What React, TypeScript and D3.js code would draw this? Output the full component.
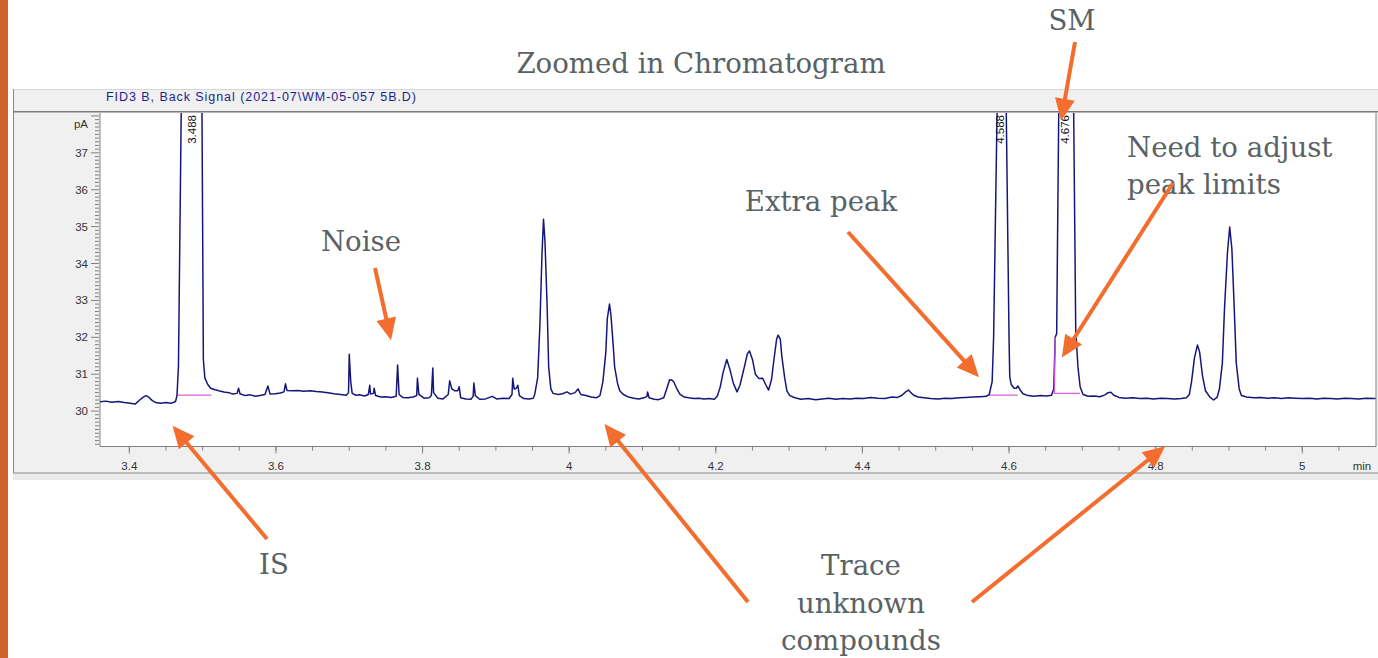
import React from "react";
import * as d3 from "d3";

// Chromatogram trace: [retention time (min), signal (pA)]
const signal: [number, number][] = [
  [3.360, 30.25], [3.368, 30.27], [3.376, 30.24], [3.385, 30.26], [3.393, 30.23], [3.401, 30.21],
  [3.408, 30.19], [3.413, 30.28], [3.419, 30.38], [3.423, 30.42], [3.427, 30.37], [3.431, 30.29],
  [3.436, 30.23], [3.443, 30.21], [3.450, 30.23], [3.457, 30.21], [3.463, 30.26], [3.465, 30.42],
  [3.467, 31.2], [3.468, 33.0], [3.471, 38.5], [3.485, 60], [3.499, 38.5], [3.501, 31.4],
  [3.503, 30.9], [3.507, 30.72], [3.511, 30.62], [3.517, 30.58], [3.522, 30.55], [3.529, 30.52],
  [3.536, 30.5], [3.541, 30.46], [3.547, 30.48], [3.549, 30.62], [3.551, 30.47], [3.558, 30.42],
  [3.565, 30.44], [3.572, 30.40], [3.578, 30.42], [3.585, 30.45], [3.589, 30.68], [3.592, 30.46],
  [3.599, 30.47], [3.606, 30.49], [3.611, 30.52], [3.613, 30.74], [3.615, 30.56], [3.622, 30.55],
  [3.630, 30.56], [3.638, 30.54], [3.647, 30.55], [3.655, 30.53], [3.663, 30.52], [3.671, 30.50],
  [3.679, 30.47], [3.688, 30.45], [3.696, 30.43], [3.699, 30.5], [3.700, 31.54], [3.702, 30.8],
  [3.704, 30.48], [3.709, 30.43], [3.714, 30.44], [3.721, 30.41], [3.726, 30.45], [3.728, 30.70],
  [3.729, 30.46], [3.733, 30.48], [3.734, 30.62], [3.736, 30.42], [3.743, 30.38], [3.750, 30.39],
  [3.757, 30.37], [3.764, 30.4], [3.766, 31.25], [3.768, 30.45], [3.773, 30.37], [3.780, 30.36],
  [3.787, 30.38], [3.792, 30.42], [3.793, 30.89], [3.795, 30.45], [3.802, 30.35], [3.809, 30.36],
  [3.812, 30.42], [3.814, 31.17], [3.815, 30.5], [3.821, 30.35], [3.828, 30.33], [3.835, 30.45],
  [3.837, 30.82], [3.840, 30.6], [3.844, 30.55], [3.848, 30.55], [3.850, 30.66], [3.852, 30.36],
  [3.859, 30.33], [3.866, 30.32], [3.869, 30.4], [3.870, 30.76], [3.872, 30.42], [3.878, 30.32],
  [3.886, 30.33], [3.895, 30.40], [3.901, 30.33], [3.910, 30.35], [3.918, 30.34], [3.922, 30.45],
  [3.923, 30.89], [3.925, 30.6], [3.928, 30.62], [3.930, 30.70], [3.932, 30.42], [3.938, 30.34],
  [3.945, 30.33], [3.951, 30.35], [3.953, 30.45], [3.957, 30.9], [3.960, 32.3], [3.963, 34.3],
  [3.965, 35.2], [3.967, 34.6], [3.970, 32.8], [3.972, 31.2], [3.975, 30.6], [3.978, 30.48],
  [3.985, 30.45], [3.991, 30.47], [3.997, 30.52], [4.002, 30.46], [4.008, 30.5], [4.012, 30.6],
  [4.016, 30.45], [4.023, 30.42], [4.030, 30.38], [4.037, 30.36], [4.042, 30.42], [4.046, 30.8],
  [4.050, 31.6], [4.052, 32.5], [4.055, 32.9], [4.057, 32.6], [4.060, 31.8], [4.062, 31.2],
  [4.066, 30.75], [4.069, 30.55], [4.074, 30.45], [4.081, 30.38], [4.088, 30.35], [4.095, 30.33],
  [4.102, 30.36], [4.106, 30.40], [4.107, 30.52], [4.109, 30.36], [4.116, 30.32], [4.122, 30.31],
  [4.129, 30.36], [4.133, 30.6], [4.137, 30.85], [4.140, 30.84], [4.143, 30.78], [4.147, 30.6],
  [4.151, 30.46], [4.157, 30.38], [4.163, 30.36], [4.170, 30.34], [4.177, 30.35], [4.184, 30.33],
  [4.191, 30.34], [4.198, 30.32], [4.202, 30.4], [4.206, 30.65], [4.210, 31.05], [4.215, 31.40],
  [4.219, 31.15], [4.224, 30.75], [4.229, 30.52], [4.233, 30.7], [4.239, 31.2], [4.243, 31.55],
  [4.246, 31.63], [4.250, 31.4], [4.254, 31.0], [4.259, 30.88], [4.264, 30.89], [4.268, 30.72],
  [4.272, 30.57], [4.276, 30.85], [4.280, 31.5], [4.283, 31.95], [4.285, 32.06], [4.288, 31.95],
  [4.290, 31.5], [4.294, 30.9], [4.297, 30.55], [4.301, 30.42], [4.308, 30.36], [4.316, 30.32],
  [4.326, 30.34], [4.336, 30.31], [4.345, 30.33], [4.354, 30.35], [4.364, 30.32], [4.373, 30.34],
  [4.383, 30.33], [4.392, 30.35], [4.402, 30.34], [4.411, 30.37], [4.421, 30.35], [4.431, 30.34],
  [4.440, 30.38], [4.448, 30.37], [4.454, 30.43], [4.459, 30.52], [4.463, 30.57], [4.466, 30.5],
  [4.470, 30.43], [4.476, 30.38], [4.484, 30.36], [4.493, 30.34], [4.503, 30.33], [4.513, 30.35],
  [4.522, 30.34], [4.532, 30.36], [4.541, 30.37], [4.551, 30.38], [4.561, 30.39], [4.569, 30.40],
  [4.573, 30.45], [4.577, 30.8], [4.579, 32.0], [4.584, 38.5], [4.590, 60], [4.596, 38.5],
  [4.600, 32.0], [4.601, 30.93], [4.603, 30.72], [4.607, 30.62], [4.610, 30.62], [4.612, 30.68],
  [4.615, 30.58], [4.619, 30.47], [4.626, 30.42], [4.634, 30.40], [4.643, 30.42], [4.651, 30.41],
  [4.658, 30.43], [4.661, 30.6], [4.662, 31.3], [4.663, 32.0], [4.665, 32.1], [4.668, 38.5],
  [4.678, 60], [4.688, 38.5], [4.691, 32.2], [4.694, 31.2], [4.697, 30.66], [4.701, 30.45],
  [4.708, 30.40], [4.716, 30.41], [4.724, 30.39], [4.731, 30.44], [4.735, 30.50], [4.739, 30.51],
  [4.743, 30.43], [4.750, 30.37], [4.759, 30.35], [4.769, 30.36], [4.778, 30.34], [4.788, 30.35],
  [4.797, 30.33], [4.807, 30.35], [4.816, 30.34], [4.826, 30.33], [4.835, 30.34], [4.842, 30.36],
  [4.846, 30.45], [4.849, 30.8], [4.853, 31.45], [4.857, 31.79], [4.860, 31.6], [4.864, 30.95],
  [4.868, 30.55], [4.874, 30.38], [4.879, 30.30], [4.884, 30.38], [4.887, 30.6], [4.891, 31.3],
  [4.894, 32.8], [4.898, 34.3], [4.901, 34.99], [4.904, 34.4], [4.907, 32.9], [4.910, 31.3],
  [4.914, 30.6], [4.917, 30.42], [4.924, 30.38], [4.934, 30.36], [4.943, 30.37], [4.953, 30.35],
  [4.962, 30.36], [4.972, 30.34], [4.981, 30.36], [4.991, 30.35], [5.001, 30.34], [5.010, 30.35],
  [5.020, 30.33], [5.029, 30.35], [5.039, 30.34], [5.048, 30.33], [5.058, 30.35], [5.067, 30.34],
  [5.077, 30.33], [5.087, 30.35], [5.096, 30.34], [5.100, 30.34],
];

const yTickValues = [30, 31, 32, 33, 34, 35, 36, 37];
const xTickValues = [3.4, 3.6, 3.8, 4.0, 4.2, 4.4, 4.6, 4.8, 5.0];
const xTickLabels = ["3.4", "3.6", "3.8", "4", "4.2", "4.4", "4.6", "4.8", "5"];

const peakLabelText = ["3.488", "4.588", "4.676"];
const peakLabelTime = [3.485, 4.588, 4.677];

const integStart = [3.465, 4.572, 4.661];
const integEnd = [3.512, 4.612, 4.697];
const integLevel = [30.43, 30.43, 30.48];

const headerTitle = "FID3 B, Back Signal (2021-07\\WM-05-057 5B.D)";

export default function App() {
  const W = 1378;
  const H = 658;
  const L = 100, R = 1376, T = 113, B = 446.5;
  const x = d3.scaleLinear().domain([3.36, 5.1006]).range([L, R]);
  const y = d3.scaleLinear().domain([29.04, 38.08]).range([B, T]);
  const line = d3.line<[number, number]>().x((d) => x(d[0])).y((d) => y(d[1]));

  const minorY = d3.range(291, 381).map((i) => i / 10);
  const minorX = d3.range(68, 102).map((i) => +(i * 0.05).toFixed(2));

  const orange = "#f26d2e";
  const noteColor = "#596265";
  const serif = "Georgia, 'DejaVu Serif', serif";
  const sans = "Arial, 'Liberation Sans', sans-serif";
  const axisColor = "#808080";

  const arrow = (x1: number, y1: number, x2: number, y2: number, key: string) => {
    const dx = x2 - x1, dy = y2 - y1;
    const len = Math.hypot(dx, dy);
    const ux = dx / len, uy = dy / len;
    const hl = 22, hw = 10;
    const bx = x2 - ux * hl, by = y2 - uy * hl;
    const px = -uy, py = ux;
    const pts = [
      [x2, y2],
      [bx + px * hw, by + py * hw],
      [bx - px * hw, by - py * hw],
    ].map((p) => p.join(",")).join(" ");
    return (
      <g key={key}>
        <line x1={x1} y1={y1} x2={bx + ux * 2} y2={by + uy * 2} stroke={orange} strokeWidth={4} />
        <polygon points={pts} fill={orange} />
      </g>
    );
  };

  return (
    <svg width={W} height={H} style={{ position: "absolute", left: 0, top: 0, display: "block" }}>
      <defs>
        <clipPath id="plotClip">
          <rect x={L} y={T} width={R - L} height={B - T} />
        </clipPath>
      </defs>
      <rect x={0} y={0} width={W} height={H} fill="#ffffff" />
      <rect x={0} y={0} width={8} height={H} fill="#d0622c" />

      {/* instrument panel */}
      <rect x={13} y={89} width={W - 13} height={391} fill="#f0f0f0" />
      <rect x={13} y={473} width={W - 13} height={7} fill="#ebebeb" />
      <line x1={13} y1={89.5} x2={W} y2={89.5} stroke="#d6d6d6" />
      <line x1={13.5} y1={89} x2={13.5} y2={473} stroke="#8a8a8a" />
      <line x1={13} y1={111.8} x2={W} y2={111.8} stroke="#7a7a7a" strokeWidth={1.5} />
      <line x1={13} y1={473} x2={W} y2={473} stroke="#8a8a8a" />
      <text x={106} y={101} fontFamily={sans} fontSize={12.5} fill="#1f1f8f" textLength={310} lengthAdjust="spacing">
        {headerTitle}
      </text>

      {/* plot area */}
      <rect x={L} y={T} width={R - L} height={B - T} fill="#ffffff" />
      <line x1={L} y1={T} x2={L} y2={B} stroke={axisColor} />
      <line x1={L} y1={B} x2={R} y2={B} stroke={axisColor} />
      <line x1={R} y1={T} x2={R} y2={B} stroke={axisColor} />

      {/* y axis */}
      {minorY.map((v) => {
        const major = Math.round(v * 10) % 10 === 0;
        return (
          <line key={"ym" + v} x1={major ? L - 9 : L - 5} x2={L - 1} y1={y(v)} y2={y(v)} stroke={axisColor} strokeWidth={1} />
        );
      })}
      {yTickValues.map((v) => (
        <text key={"yl" + v} x={L - 12} y={y(v)} dy="0.35em" textAnchor="end" fontFamily={sans} fontSize={11.5} fill="#333">
          {v}
        </text>
      ))}
      <text x={L - 12} y={y(37.78)} dy="0.35em" textAnchor="end" fontFamily={sans} fontSize={11.5} fill="#333">
        pA
      </text>

      {/* x axis */}
      {minorX.map((t) => (
        <line key={"xm" + t} x1={x(t)} x2={x(t)} y1={B} y2={B + 4} stroke={axisColor} />
      ))}
      {xTickValues.map((t, i) => (
        <g key={"xt" + t}>
          <line x1={x(t)} x2={x(t)} y1={B} y2={B + 7} stroke={axisColor} />
          <text x={x(t)} y={B + 19} dy="0.35em" textAnchor="middle" fontFamily={sans} fontSize={11.5} fill="#333">
            {xTickLabels[i]}
          </text>
        </g>
      ))}
      <text x={1362} y={B + 19} dy="0.35em" textAnchor="middle" fontFamily={sans} fontSize={11.5} fill="#333">
        min
      </text>

      {/* signal */}
      <g clipPath="url(#plotClip)">
        {integStart.map((s, i) => (
          <line key={"ib" + i} x1={x(s)} x2={x(integEnd[i])} y1={y(integLevel[i])} y2={y(integLevel[i])} stroke="#e060d8" strokeWidth={1.2} />
        ))}
        <path d={line(signal) || ""} fill="none" stroke="#16167a" strokeWidth={1.5} strokeLinejoin="round" />
        <line x1={x(integStart[2]) + 0.5} x2={x(integStart[2]) + 1.5} y1={y(integLevel[2])} y2={y(32.0)} stroke="#d050e0" strokeWidth={1.2} />
        {peakLabelText.map((s, i) => (
          <text
            key={"pl" + i}
            transform={`translate(${x(peakLabelTime[i])},${T + 2}) rotate(-90)`}
            textAnchor="end"
            dy="0.35em"
            fontFamily={sans}
            fontSize={11.5}
            fill="#111"
          >
            {s}
          </text>
        ))}
      </g>

      {/* annotations */}
      <g fontFamily={serif} fill={noteColor} fontSize={27.6}>
        <text x={701} y={73} textAnchor="middle">Zoomed in Chromatogram</text>
        <text x={1072} y={30} textAnchor="middle">SM</text>
        <text x={1127} y={157}>Need to adjust</text>
        <text x={1127} y={194}>peak limits</text>
        <text x={821} y={211} textAnchor="middle">Extra peak</text>
        <text x={361} y={251} textAnchor="middle">Noise</text>
        <text x={274} y={574} textAnchor="middle">IS</text>
        <text x={861} y={575} textAnchor="middle">Trace</text>
        <text x={861} y={613} textAnchor="middle">unknown</text>
        <text x={861} y={650} textAnchor="middle">compounds</text>
      </g>
      {arrow(1075, 42, x(4.671), y(37.87), "a-sm")}
      {arrow(1173, 183, x(4.672), y(31.45), "a-need")}
      {arrow(848, 232, x(4.559), y(30.92), "a-extra")}
      {arrow(375, 268, x(3.757), y(31.92), "a-noise")}
      {arrow(267, 539, x(3.459), y(29.60), "a-is")}
      {arrow(748, 602, x(4.048), y(29.65), "a-trace1")}
      {arrow(972, 602, x(4.813), y(29.05), "a-trace2")}
    </svg>
  );
}
